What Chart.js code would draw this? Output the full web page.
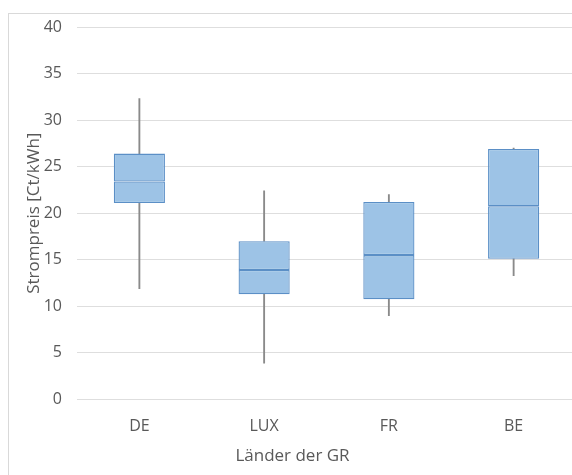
<!DOCTYPE html>
<html>
<head>
<meta charset="utf-8">
<script src="https://cdn.jsdelivr.net/npm/chart.js@4/dist/chart.umd.min.js"></script>
<style>
  html, body { margin: 0; padding: 0; background: #fff; overflow: hidden; width: 572px; height: 475px; }
  #frame { position: absolute; left: 8px; top: 13px; width: 586px; height: 480px; border: 1px solid #d9d9d9; }
  #wrap { position: absolute; left: 0; top: 0; width: 586px; height: 480px; }
</style>
</head>
<body>
<div id="frame"><div id="wrap"><canvas id="c" width="586" height="480"></canvas></div></div>
<script>
const categories = ["DE", "LUX", "FR", "BE"];
const minValues    = [11.9, 3.9, 9.0, 13.3];
const q1Values     = [21.1, 11.3, 10.75, 15.1];
const medianValues = [23.4, 13.9, 15.5, 20.75];
const q3Values     = [26.4, 17.0, 21.2, 26.9];
const maxValues    = [32.3, 22.4, 22.0, 27.0];
const yTicks = [0, 5, 10, 15, 20, 25, 30, 35, 40];

const FONT = "'Open Sans', sans-serif";
const TEXT = "#595959";
const boxFill = "#9dc3e6";
const boxBorder = "#5b8fc6";
const whisker = "#8a8a8a";

const pair = (a, b) => a.map((v, i) => [v, b[i]]);

const boxCommon = {
  type: "bar",
  backgroundColor: boxFill,
  borderColor: boxBorder,
  borderWidth: 1.3,
  borderSkipped: false,
  grouped: false,
  barPercentage: 0.82,
  categoryPercentage: 0.5
};
const whiskerCommon = {
  type: "bar",
  backgroundColor: whisker,
  borderWidth: 0,
  grouped: false,
  barThickness: 1.2
};

new Chart(document.getElementById("c"), {
  type: "bar",
  data: {
    labels: categories,
    datasets: [
      Object.assign({ label: "upper whisker", data: pair(q3Values, maxValues), order: 3 }, whiskerCommon),
      Object.assign({ label: "lower whisker", data: pair(minValues, q1Values), order: 3 }, whiskerCommon),
      Object.assign({ label: "Q1-Median", data: pair(q1Values, medianValues), order: 1 }, boxCommon),
      Object.assign({ label: "Median-Q3", data: pair(medianValues, q3Values), order: 1 }, boxCommon)
    ]
  },
  options: {
    responsive: false,
    animation: false,
    devicePixelRatio: 1,
    layout: { padding: { top: 13, right: 19, bottom: 20, left: 0 } },
    plugins: {
      legend: { display: false },
      tooltip: { enabled: false },
      title: {
        display: true,
        position: "bottom",
        text: "Länder der GR",
        color: TEXT,
        font: { family: FONT, size: 17, weight: "normal" },
        padding: { top: -8, bottom: 8 }
      }
    },
    scales: {
      x: {
        type: "category",
        grid: { display: false, drawTicks: false },
        border: { display: false },
        ticks: { color: TEXT, font: { family: FONT, size: 16 }, padding: 17.5 }
      },
      y: {
        type: "linear",
        min: 0,
        max: 40,
        afterBuildTicks: (scale) => { scale.ticks = yTicks.map(v => ({ value: v })); },
        afterFit: (scale) => { scale.width = 68; scale.paddingTop = 0; scale.paddingBottom = 0; },
        grid: { color: "#dedede", lineWidth: 1, drawTicks: false },
        border: { display: false },
        ticks: { color: TEXT, font: { family: FONT, size: 16 }, padding: 15 },
        title: {
          display: true,
          text: "Strompreis [Ct/kWh]",
          color: TEXT,
          font: { family: FONT, size: 17, weight: "normal" },
          padding: { top: 14.5, bottom: 0 }
        }
      }
    }
  }
});
</script>
</body>
</html>
